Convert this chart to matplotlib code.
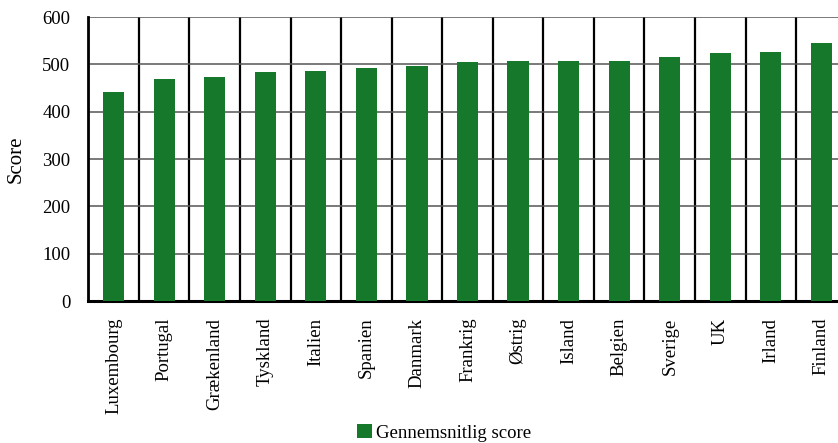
import matplotlib.pyplot as plt
import numpy as np

lande = ['Luxembourg', 'Portugal', 'Grækenland', 'Tyskland', 'Italien', 'Spanien',
         'Danmark', 'Frankrig', 'Østrig', 'Island', 'Belgien', 'Sverige', 'UK',
         'Irland', 'Finland']
score = [441, 470, 474, 484, 487, 493, 497, 505, 507, 507, 507, 516, 523, 527, 546]

plt.rcParams['font.family'] = ['Liberation Serif', 'DejaVu Serif']

fig = plt.figure(figsize=(8.38, 4.43), dpi=100)
ax = fig.add_axes([0.1054, 0.3205, 0.905, 0.641])

x = np.arange(len(lande))
ax.bar(x, score, width=0.42, color='#15782a', label='Gennemsnitlig score', zorder=3)

ax.set_xlim(-0.5, len(lande) - 0.5)
ax.set_ylim(0, 600)
ax.set_yticks(range(0, 601, 100))
ax.set_xticks(x)
ax.set_xticklabels(lande, rotation=90, fontsize=13.5)
ax.set_xticks(np.arange(len(lande) + 1) - 0.5, minor=True)
ax.tick_params(axis='y', labelsize=13.5, length=0, pad=13)
ax.tick_params(axis='x', which='both', length=0, pad=12)

ax.grid(axis='y', which='major', color='#555555', lw=1.1, zorder=1)
ax.grid(axis='x', which='minor', color='black', lw=1.6, zorder=1)

for side in ['top', 'right']:
    ax.spines[side].set_visible(False)
ax.spines['left'].set_linewidth(2)
ax.spines['bottom'].set_linewidth(2.2)

ax.set_ylabel('Score', fontsize=15, labelpad=12)

fig.legend(loc='lower center', bbox_to_anchor=(0.53, -0.035), frameon=False, fontsize=13.5,
           handlelength=0.8, handleheight=0.8, handletextpad=0.2)

fig.savefig('out.png', dpi=100)
